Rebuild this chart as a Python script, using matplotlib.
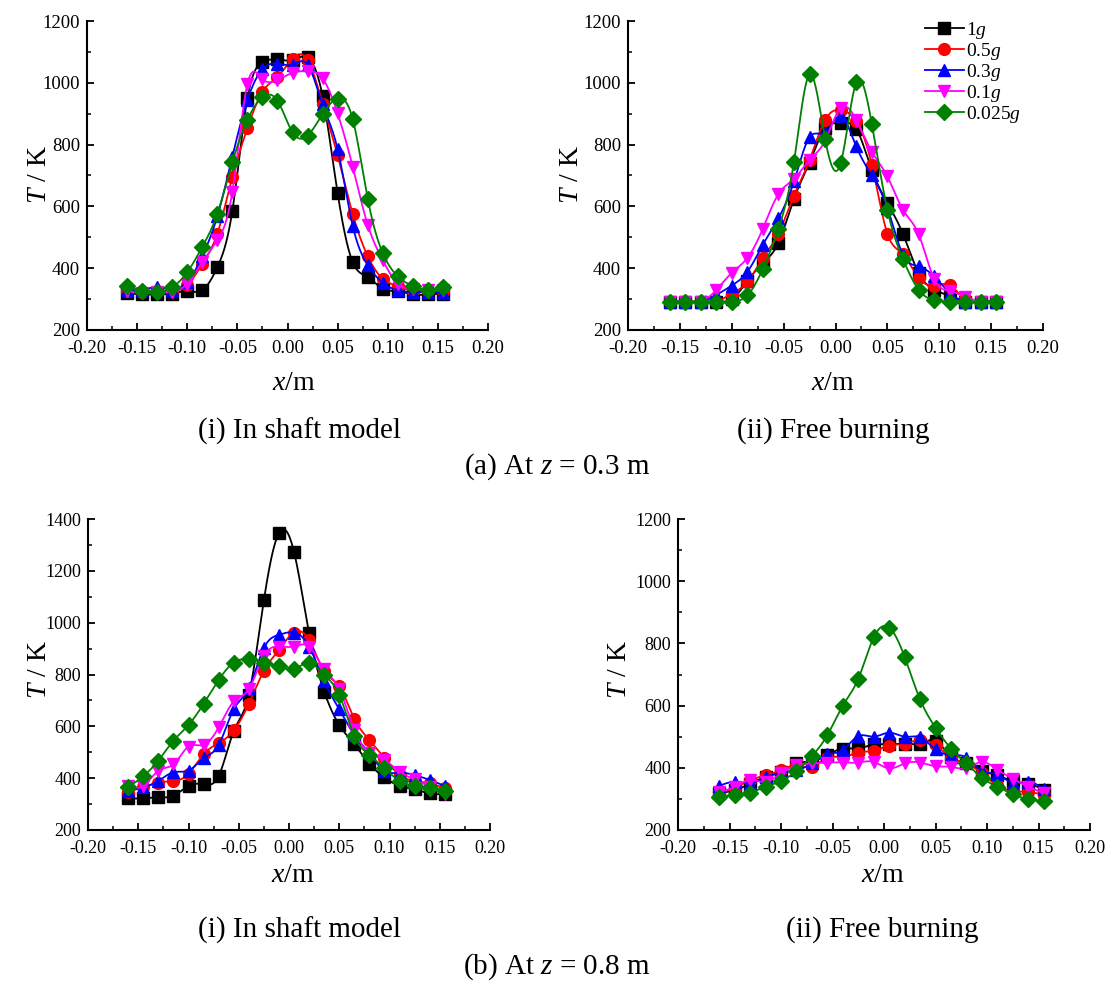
import numpy as np
import matplotlib
matplotlib.use("Agg")
import matplotlib.pyplot as plt
from matplotlib.ticker import MultipleLocator, FormatStrFormatter

plt.rcParams['font.family'] = ['Liberation Serif', 'DejaVu Serif']
plt.rcParams['mathtext.fontset'] = 'custom'
plt.rcParams['mathtext.rm'] = 'Liberation Serif'
plt.rcParams['mathtext.it'] = 'Liberation Serif:italic'

# ---------------- data ----------------
x_pos = [-0.16, -0.145, -0.13, -0.115, -0.10, -0.085, -0.07, -0.055, -0.04, -0.025, -0.01,
         0.005, 0.02, 0.035, 0.05, 0.065, 0.08, 0.095, 0.11, 0.125, 0.14, 0.155]

series_labels = ['1$g$', '0.5$g$', '0.3$g$', '0.1$g$', '0.025$g$']

# (a)(i) z = 0.3 m, in shaft model
a1_1g    = [320, 315, 315, 318, 326, 329, 403, 586, 950, 1066, 1076, 1073, 1082, 957, 643, 420, 372, 333, 326, 315, 315, 318]
a1_05g   = [326, 323, 326, 326, 345, 414, 512, 695, 853, 971, 1019, 1078, 1075, 933, 765, 576, 439, 366, 342, 326, 326, 326]
a1_03g   = [331, 329, 340, 331, 355, 439, 568, 761, 944, 1044, 1062, 1059, 1059, 930, 785, 538, 410, 353, 328, 323, 323, 320]
a1_01g   = [326, 320, 323, 324, 350, 420, 490, 648, 996, 1012, 1009, 1032, 1038, 1014, 901, 729, 541, 426, 350, 333, 331, 331]
a1_0025g = [344, 326, 323, 339, 387, 469, 576, 743, 880, 953, 942, 840, 829, 899, 949, 883, 625, 449, 374, 342, 329, 339]

# (a)(ii) z = 0.3 m, free burning
a2_1g    = [292, 292, 292, 292, 300, 358, 417, 482, 625, 742, 853, 869, 851, 718, 611, 511, 385, 331, 310, 292, 292, 292]
a2_05g   = [292, 292, 292, 292, 318, 355, 433, 512, 635, 750, 880, 912, 875, 735, 512, 446, 369, 344, 345, 299, 292, 292]
a2_03g   = [292, 292, 292, 313, 344, 388, 476, 562, 681, 824, 839, 892, 794, 700, 595, 444, 406, 374, 320, 292, 292, 292]
a2_01g   = [292, 292, 292, 329, 385, 433, 528, 640, 689, 750, 813, 919, 880, 777, 697, 589, 511, 366, 326, 308, 292, 292]
a2_0025g = [292, 292, 292, 292, 292, 312, 398, 528, 745, 1027, 818, 740, 1001, 867, 589, 430, 331, 296, 292, 292, 292, 292]

# (b)(i) z = 0.8 m, in shaft model
b1_1g    = [322, 322, 326, 332, 370, 377, 408, 582, 721, 1086, 1346, 1273, 960, 734, 605, 531, 455, 403, 370, 357, 341, 339]
b1_05g   = [348, 365, 383, 389, 416, 493, 535, 584, 687, 814, 895, 962, 934, 812, 754, 629, 547, 477, 412, 390, 380, 361]
b1_03g   = [352, 365, 389, 423, 429, 477, 528, 666, 747, 902, 953, 962, 908, 773, 666, 567, 496, 428, 421, 412, 393, 370]
b1_01g   = [371, 370, 429, 453, 522, 528, 596, 696, 743, 872, 908, 908, 908, 820, 744, 586, 496, 470, 425, 395, 367, 339]
b1_0025g = [365, 408, 468, 545, 605, 687, 779, 846, 859, 846, 831, 822, 844, 799, 721, 563, 489, 438, 390, 370, 361, 350]

# (b)(ii) z = 0.8 m, free burning
b2_1g    = [319, 328, 349, 371, 387, 414, 421, 441, 462, 462, 475, 475, 478, 478, 487, 435, 414, 390, 376, 357, 349, 330]
b2_05g   = [322, 336, 360, 376, 392, 408, 403, 433, 435, 449, 455, 471, 478, 489, 473, 433, 414, 382, 344, 326, 322, 314]
b2_03g   = [342, 355, 351, 369, 384, 392, 414, 443, 457, 502, 500, 513, 500, 498, 459, 441, 433, 390, 379, 351, 355, 333]
b2_01g   = [322, 339, 360, 355, 382, 408, 414, 417, 417, 417, 419, 398, 414, 417, 405, 403, 398, 419, 394, 365, 339, 319]
b2_0025g = [306, 312, 320, 339, 357, 390, 438, 505, 600, 686, 819, 851, 757, 620, 529, 462, 414, 368, 339, 315, 299, 293]

# ---------------- styling ----------------
colors = ['#000000', '#FF0000', '#0000FF', '#FF00FF', '#008000']
markers = ['s', 'o', '^', 'v', 'D']
msizes = [8, 8.5, 9, 9, 8]


def natural_spline(xs, ys, n=600):
    xs = np.asarray(xs, float)
    ys = np.asarray(ys, float)
    m = len(xs)
    h = np.diff(xs)
    A = np.zeros((m, m))
    r = np.zeros(m)
    A[0, 0] = A[-1, -1] = 1.0
    for i in range(1, m - 1):
        A[i, i - 1] = h[i - 1]
        A[i, i] = 2 * (h[i - 1] + h[i])
        A[i, i + 1] = h[i]
        r[i] = 6 * ((ys[i + 1] - ys[i]) / h[i] - (ys[i] - ys[i - 1]) / h[i - 1])
    M = np.linalg.solve(A, r)
    xx = np.linspace(xs[0], xs[-1], n)
    idx = np.clip(np.searchsorted(xs, xx) - 1, 0, m - 2)
    x0, x1 = xs[idx], xs[idx + 1]
    hh = x1 - x0
    t0 = x1 - xx
    t1 = xx - x0
    yy = (M[idx] * t0 ** 3 / (6 * hh) + M[idx + 1] * t1 ** 3 / (6 * hh)
          + (ys[idx] / hh - M[idx] * hh / 6) * t0
          + (ys[idx + 1] / hh - M[idx + 1] * hh / 6) * t1)
    return xx, yy


W, H = 1114, 985
fig = plt.figure(figsize=(W / 100, H / 100), dpi=100)


def px_axes(l, r, t, b):
    return fig.add_axes([l / W, 1 - b / H, (r - l) / W, (b - t) / H])


def setup(ax, ymax, tick_fs):
    ax.set_xlim(-0.2, 0.2)
    ax.set_ylim(200, ymax)
    for s in ['top', 'right']:
        ax.spines[s].set_visible(False)
    for s in ['left', 'bottom']:
        ax.spines[s].set_linewidth(1.5)
    ax.xaxis.set_major_locator(MultipleLocator(0.05))
    ax.xaxis.set_minor_locator(MultipleLocator(0.025))
    ax.yaxis.set_major_locator(MultipleLocator(200))
    ax.yaxis.set_minor_locator(MultipleLocator(100))
    ax.xaxis.set_major_formatter(FormatStrFormatter('%.2f'))
    ax.tick_params(which='major', direction='in', length=5, width=1.3, labelsize=tick_fs)
    ax.tick_params(axis='y', which='major', pad=5)
    ax.tick_params(axis='x', which='major', pad=7)
    ax.tick_params(which='minor', direction='in', length=3, width=1.1)


def plot_panel(ax, series):
    handles = []
    for k, ys in enumerate(series):
        xx, yy = natural_spline(x_pos, ys)
        ax.plot(xx, yy, color=colors[k], lw=1.3, zorder=2 + k, clip_on=False)
        ax.plot(x_pos, ys, linestyle='none', marker=markers[k], ms=msizes[k],
                color=colors[k], zorder=2 + k, clip_on=False)
        h, = ax.plot([], [], color=colors[k], lw=1.3, marker=markers[k], ms=msizes[k])
        handles.append(h)
    return handles


ax1 = px_axes(87, 488, 21, 330)
ax2 = px_axes(628, 1043, 21, 330)
ax3 = px_axes(88, 490, 519, 830)
ax4 = px_axes(678, 1090, 519, 830)

setup(ax1, 1200, 13.5)
setup(ax2, 1200, 13.5)
setup(ax3, 1400, 13)
setup(ax4, 1200, 13)

plot_panel(ax1, [a1_1g, a1_05g, a1_03g, a1_01g, a1_0025g])
hs = plot_panel(ax2, [a2_1g, a2_05g, a2_03g, a2_01g, a2_0025g])
plot_panel(ax3, [b1_1g, b1_05g, b1_03g, b1_01g, b1_0025g])
plot_panel(ax4, [b2_1g, b2_05g, b2_03g, b2_01g, b2_0025g])

ax2.legend(hs, series_labels, loc='upper left', bbox_to_anchor=(0.697, 1.03), frameon=False,
           fontsize=14, handlelength=2.0, handletextpad=0.1, labelspacing=0.0,
           borderaxespad=0)

lab_fs = 20
fig.text(40 / W, 1 - 175 / H, '$T$ / K', rotation=90, ha='center', va='center', fontsize=lab_fs)
fig.text(572 / W, 1 - 175 / H, '$T$ / K', rotation=90, ha='center', va='center', fontsize=lab_fs)
fig.text(40 / W, 1 - 670 / H, '$T$ / K', rotation=90, ha='center', va='center', fontsize=lab_fs)
fig.text(620 / W, 1 - 670 / H, '$T$ / K', rotation=90, ha='center', va='center', fontsize=lab_fs)

fig.text(294 / W, 1 - 383 / H, '$x$/m', ha='center', va='center', fontsize=lab_fs)
fig.text(833 / W, 1 - 383 / H, '$x$/m', ha='center', va='center', fontsize=lab_fs)
fig.text(293 / W, 1 - 875 / H, '$x$/m', ha='center', va='center', fontsize=lab_fs)
fig.text(883 / W, 1 - 875 / H, '$x$/m', ha='center', va='center', fontsize=lab_fs)

cap_fs = 21
fig.text(300 / W, 1 - 431 / H, '(i) In shaft model', ha='center', va='center', fontsize=cap_fs)
fig.text(833 / W, 1 - 431 / H, '(ii) Free burning', ha='center', va='center', fontsize=cap_fs)
fig.text(557 / W, 1 - 467 / H, '(a) At $z$ = 0.3 m', ha='center', va='center', fontsize=cap_fs)
fig.text(300 / W, 1 - 930 / H, '(i) In shaft model', ha='center', va='center', fontsize=cap_fs)
fig.text(882 / W, 1 - 930 / H, '(ii) Free burning', ha='center', va='center', fontsize=cap_fs)
fig.text(557 / W, 1 - 967 / H, '(b) At $z$ = 0.8 m', ha='center', va='center', fontsize=cap_fs)

fig.savefig('out.png', dpi=100)
